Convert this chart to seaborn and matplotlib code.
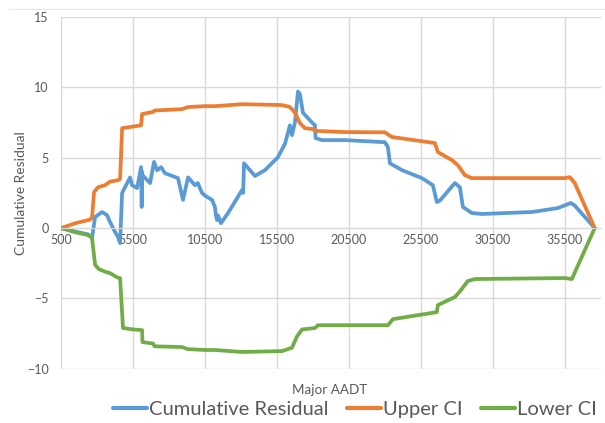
import pandas as pd
import matplotlib.pyplot as plt
from matplotlib.lines import Line2D
import seaborn as sns

# Cumulative residual (blue)
resid_x = [500, 1500, 2380, 2650, 2860, 3350, 3690, 3900, 4250, 4460, 4600,
           4740, 4940, 5290, 5430, 5780, 6060, 6100, 6130, 6150, 6680, 6960,
           7170, 7440, 7720, 8620, 8970, 9320, 9800, 10000, 10290, 10500,
           10990, 11190, 11260, 11330, 11400, 11610, 12100, 13070, 13150,
           13210, 13970, 14670, 15570, 16060, 16400, 16540, 16750, 16960,
           17100, 17300, 17930, 18140, 18180, 18620, 20220, 23000, 23210,
           23350, 24180, 25570, 26330, 26610, 26820, 27860, 28210, 28420,
           29040, 29740, 33200, 35010, 35920, 36190, 37580]
resid_y = [0, -0.25, -0.45, -0.7, 0.78, 1.14, 0.92, 0.43, -0.28, -0.64, -1.07,
           2.5, 2.9, 3.6, 3.05, 2.84, 4.33, 1.5, 4.0, 3.76, 3.2, 4.7,
           4.1, 4.33, 3.9, 3.55, 2.0, 3.6, 3.05, 3.2, 2.5, 2.3,
           2.0, 1.5, 0.9, 0.57, 0.9, 0.35, 1.07, 2.7, 2.5,
           4.6, 3.7, 4.12, 5.04, 6.0, 7.3, 6.6, 7.5, 9.7,
           9.5, 8.2, 7.5, 7.3, 6.4, 6.25, 6.25, 6.1, 5.75,
           4.6, 4.12, 3.55, 3.05, 1.85, 1.95, 3.2, 2.9, 1.5,
           1.07, 1.0, 1.14, 1.42, 1.78, 1.6, 0]

# Upper CI (orange)
upper_x = [500, 1500, 2510, 2650, 2790, 3070, 3560, 3900, 4460, 4600, 4740,
           5430, 6060, 6130, 6890, 7000, 8900, 9320, 10500, 11190, 13070,
           15850, 16400, 16750, 17100, 17440, 18000, 18280, 20220, 23000,
           23490, 26470, 26680, 27650, 28070, 28560, 29040, 35500, 35850,
           36190, 37580]
upper_y = [0, 0.35, 0.6, 0.75, 2.56, 2.9, 3.05, 3.3, 3.4, 3.5, 7.1,
           7.2, 7.3, 8.1, 8.25, 8.35, 8.45, 8.6, 8.66, 8.66, 8.8,
           8.74, 8.6, 8.2, 7.45, 7.1, 7.03, 6.9, 6.82, 6.8,
           6.47, 6.04, 5.4, 4.83, 4.47, 3.76, 3.55, 3.55, 3.62,
           3.2, 0]

# Lower CI (green)
lower_x = [500, 1500, 2380, 2650, 2860, 3100, 3560, 3900, 4390, 4600, 4800,
           5500, 6130, 6150, 6890, 7000, 8900, 9320, 10500, 11190, 13070,
           15850, 16540, 16890, 17240, 18140, 18350, 20220, 23210, 23560,
           26610, 26680, 27860, 28210, 28760, 29250, 35500, 35990, 37580]
lower_y = [0, -0.3, -0.5, -0.7, -2.6, -2.9, -3.1, -3.2, -3.5, -3.55, -7.1,
           -7.2, -7.25, -8.1, -8.2, -8.4, -8.45, -8.6, -8.66, -8.66, -8.8,
           -8.74, -8.5, -7.7, -7.2, -7.1, -6.9, -6.9, -6.9, -6.47,
           -5.97, -5.47, -4.9, -4.5, -3.76, -3.62, -3.55, -3.62, 0]

xticks = [500, 5500, 10500, 15500, 20500, 25500, 30500, 35500]
yticks = [-10, -5, 0, 5, 10, 15]
series_names = ["Cumulative Residual", "Upper CI", "Lower CI"]
colors = ["#5B9BD5", "#ED7D31", "#70AD47"]

df = pd.concat([
    pd.DataFrame({"x": resid_x, "y": resid_y, "series": series_names[0]}),
    pd.DataFrame({"x": upper_x, "y": upper_y, "series": series_names[1]}),
    pd.DataFrame({"x": lower_x, "y": lower_y, "series": series_names[2]}),
], ignore_index=True)

sns.set_style("white")
plt.rcParams['font.family'] = ['Lato', 'DejaVu Sans']
text_color = "#595959"
grid_color = "#D9D9D9"

fig = plt.figure(figsize=(6.05, 4.23), dpi=100)
ax = fig.add_axes([0.101, 0.128, 0.892, 0.832])

sns.lineplot(data=df, x="x", y="y", hue="series", sort=False, estimator=None,
             palette=dict(zip(series_names, colors)), linewidth=2.7, ax=ax,
             legend=False)

ax.set_xlim(500, 38000)
ax.set_ylim(-10, 15)
ax.set_xticks(xticks)
ax.set_yticks(yticks)
ax.grid(True, color=grid_color, linewidth=1.0)
ax.set_axisbelow(True)

for s in ["top", "right", "left"]:
    ax.spines[s].set_visible(False)
ax.spines["bottom"].set_position(("data", 0))
ax.spines["bottom"].set_color(grid_color)
ax.tick_params(axis="both", length=0, labelsize=9, labelcolor=text_color)
ax.tick_params(axis="x", pad=4)
ax.tick_params(axis="y", pad=9)

ax.set_xlabel("")
ax.set_ylabel("Cumulative Residual", fontsize=10, color=text_color)
ax.yaxis.set_label_coords(-0.063, 0.5)
fig.text(0.545, 0.078, "Major AADT", ha="center", va="center",
         fontsize=9.7, color=text_color)

handles = [Line2D([0], [0], color=c, linewidth=3) for c in colors]
fig.legend(handles, series_names, loc="center", bbox_to_anchor=(0.587, 0.031),
           ncol=3, frameon=False, fontsize=14.5, handlelength=1.7,
           handletextpad=0.1, columnspacing=0.9, labelcolor=text_color)

fig.add_artist(Line2D([0.015, 1.0], [0.979, 0.979], color="#E6E6E6",
                      linewidth=0.8, transform=fig.transFigure))

fig.savefig("out.png", dpi=100)
